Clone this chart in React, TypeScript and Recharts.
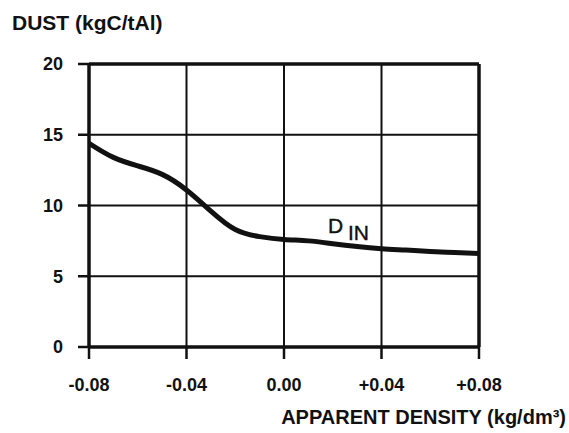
import React from "react";
import {
  LineChart,
  Line,
  XAxis,
  YAxis,
  CartesianGrid,
  ReferenceLine,
  ReferenceDot,
} from "recharts";

const densityValues = [
  -0.08, -0.07, -0.06, -0.05, -0.04, -0.03, -0.02, -0.01, 0, 0.01, 0.02, 0.03,
  0.04, 0.05, 0.06, 0.07, 0.08,
];
const dustValues = [
  14.4, 13.4, 12.8, 12.2, 11.1, 9.6, 8.3, 7.8, 7.6, 7.5, 7.3, 7.1, 6.95, 6.85,
  6.75, 6.68, 6.6,
];
const xTicks = [-0.08, -0.04, 0, 0.04, 0.08];
const xTickLabels = ["-0.08", "-0.04", "0.00", "+0.04", "+0.08"];
const yTicks = [0, 5, 10, 15, 20];
const yTickLabels = ["0", "5", "10", "15", "20"];
const seriesLabel = { main: "D", sub: "IN", x: 0.018, y: 8.06 };
const yTitle = "DUST (kgC/tAl)";
const xTitle = "APPARENT DENSITY (kg/dm³)";

const data = densityValues.map((d, i) => ({ x: d, dust: dustValues[i] }));

const FONT = "'Liberation Sans', Arial, sans-serif";

export default function App() {
  return (
    <div style={{ position: "absolute", left: 0, top: 0, width: 569, height: 433, background: "#fff" }}>
      <LineChart
        width={569}
        height={433}
        data={data}
        margin={{ top: 64, right: 90, bottom: 46, left: 0 }}
      >
        <CartesianGrid stroke="#111" strokeWidth={2} strokeOpacity={1} />
        <XAxis
          dataKey="x"
          type="number"
          domain={[-0.08, 0.08]}
          ticks={xTicks}
          tickFormatter={(v: number) => xTickLabels[xTicks.findIndex((t) => Math.abs(t - v) < 1e-9)]}
          height={40}
          tickSize={12}
          tickMargin={19}
          axisLine={{ stroke: "#111", strokeWidth: 3.5 }}
          tickLine={{ stroke: "#111", strokeWidth: 2.5 }}
          tick={{ fill: "#111", fontSize: 18, fontWeight: 700, fontFamily: FONT }}
          allowDataOverflow
        />
        <YAxis
          type="number"
          domain={[0, 20]}
          ticks={yTicks}
          tickFormatter={(v: number) => yTickLabels[yTicks.indexOf(v)]}
          width={89}
          tickSize={11}
          tickMargin={15}
          axisLine={{ stroke: "#111", strokeWidth: 3.5 }}
          tickLine={{ stroke: "#111", strokeWidth: 2.5 }}
          tick={{ fill: "#111", fontSize: 18, fontWeight: 700, fontFamily: FONT }}
        />
        <ReferenceLine y={20} stroke="#111" strokeWidth={3.5} />
        <ReferenceLine x={0.08} stroke="#111" strokeWidth={3.5} />
        <Line
          type="natural"
          dataKey="dust"
          stroke="#111"
          strokeWidth={5}
          dot={false}
          isAnimationActive={false}
        />
        <ReferenceDot
          x={seriesLabel.x}
          y={seriesLabel.y}
          r={0}
          fill="none"
          stroke="none"
          label={{
            content: (props: any) => {
              const vb = props.viewBox || {};
              const cx = (vb.x ?? 0) + (vb.width ?? 0) / 2;
              const cy = (vb.y ?? 0) + (vb.height ?? 0) / 2;
              return (
                <g fontFamily={FONT} fill="#111">
                  <text x={cx} y={cy} fontSize={21} stroke="#111" strokeWidth={0.4}>{seriesLabel.main}</text>
                  <text x={cx + 20} y={cy + 7} fontSize={21} stroke="#111" strokeWidth={0.4}>{seriesLabel.sub}</text>
                </g>
              );
            },
          }}
        />
      </LineChart>
      <svg
        width={569}
        height={433}
        style={{ position: "absolute", left: 0, top: 0, pointerEvents: "none" }}
      >
        <text x={12} y={30} fontSize={21} fontWeight={700} fontFamily={FONT} fill="#111">
          {yTitle}
        </text>
        <text x={566} y={424} textAnchor="end" fontSize={20} fontWeight={700} fontFamily={FONT} fill="#111">
          {xTitle}
        </text>
      </svg>
    </div>
  );
}
